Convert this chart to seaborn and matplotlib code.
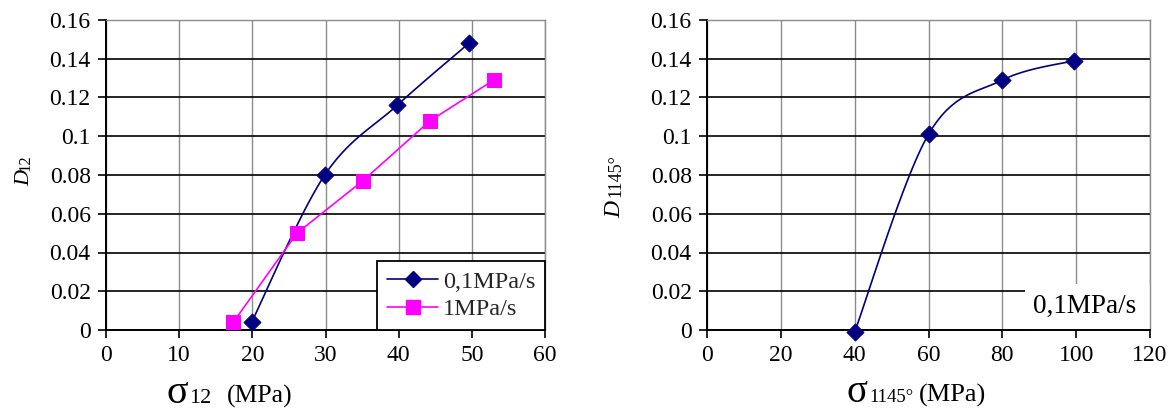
import numpy as np
import pandas as pd
import matplotlib
matplotlib.use("Agg")
import matplotlib.pyplot as plt
import seaborn as sns
from matplotlib.lines import Line2D
from matplotlib.patches import Rectangle
from matplotlib.ticker import FuncFormatter, MultipleLocator

# データ
s12_slow = [19.9, 29.9, 39.8, 49.6]
d12_slow = [0.004, 0.080, 0.116, 0.148]
s12_fast = [17.4, 26.1, 35.1, 44.3, 53.0]
d12_fast = [0.004, 0.050, 0.077, 0.108, 0.129]
s1145 = [40, 60, 80, 99.4]
d1145 = [-0.001, 0.101, 0.129, 0.139]

NAVY = "#000080"
MAGENTA = "#FF00FF"

sns.set_style("white")
plt.rcParams['font.family'] = ['Liberation Serif', 'DejaVu Serif']


# Excel風のスムージング線 (画面座標でベジェ補間)
def smooth(ax, xs, ys, n=30):
    tr = ax.transData
    pts = tr.transform(np.column_stack([xs, ys]))
    p = np.vstack([pts[0], pts, pts[-1]])
    out = []
    for i in range(1, len(p) - 2):
        p0, p1, p2, p3 = p[i - 1], p[i], p[i + 1], p[i + 2]
        c1 = p1 + (p2 - p0) / 6
        c2 = p2 - (p3 - p1) / 6
        t = np.linspace(0, 1, n)[:, None]
        seg = (1 - t) ** 3 * p1 + 3 * (1 - t) ** 2 * t * c1 + 3 * (1 - t) * t ** 2 * c2 + t ** 3 * p2
        out.append(seg)
    out = np.vstack(out)
    d = tr.inverted().transform(out)
    return d[:, 0], d[:, 1]


def style_axes(ax, xmax, xstep):
    ax.set_xlim(0, xmax)
    ax.set_ylim(0, 0.16)
    ax.xaxis.set_major_locator(MultipleLocator(xstep))
    ax.yaxis.set_major_locator(MultipleLocator(0.02))
    ax.yaxis.set_major_formatter(FuncFormatter(lambda v, p: f"{round(v, 2):g}"))
    ax.grid(True, axis='y', color='black', lw=1.2, zorder=0)
    ax.grid(True, axis='x', color='#8c8c8c', lw=1.0, zorder=0)
    ax.set_axisbelow(True)
    for side in ['left', 'bottom']:
        ax.spines[side].set_color('black')
        ax.spines[side].set_linewidth(1.4)
    for side in ['top', 'right']:
        ax.spines[side].set_color('#8c8c8c')
        ax.spines[side].set_linewidth(1.0)
    ax.tick_params(axis='both', direction='out', length=6, width=1.2,
                   labelsize=17, colors='black', pad=5,
                   bottom=True, left=True)
    ax.set_xlabel('')
    ax.set_ylabel('')


fig = plt.figure(figsize=(11.7, 4.12), dpi=100)
W, H = 1170, 412
ax1 = fig.add_axes([106 / W, 1 - 330 / H, (545 - 106) / W, 310 / H])
ax2 = fig.add_axes([707 / W, 1 - 330 / H, (1150 - 707) / W, 310 / H])

# 左図
style_axes(ax1, 60, 10)
sx, sy = smooth(ax1, s12_slow, d12_slow)
ax1.plot(sx, sy, color=NAVY, lw=1.2, zorder=3)
sns.scatterplot(x=s12_slow, y=d12_slow, ax=ax1, marker='D', s=75, color=NAVY,
                edgecolor=NAVY, zorder=4, clip_on=False)
sns.lineplot(x=s12_fast, y=d12_fast, ax=ax1, color=MAGENTA, lw=1.2, marker='s',
             markersize=9.5, markeredgecolor=MAGENTA, zorder=3, sort=False)
for c in ax1.collections + ax1.lines:
    c.set_clip_on(False)
handles = [Line2D([], [], color=NAVY, lw=1.2, marker='D', markersize=8.5),
           Line2D([], [], color=MAGENTA, lw=1.2, marker='s', markersize=9.5)]
leg = ax1.legend(handles, ['0,1MPa/s', '1MPa/s'], loc='lower right',
                 bbox_to_anchor=(1.0, 0.0), borderaxespad=0, fancybox=False,
                 edgecolor='black', framealpha=1, fontsize=17.5, handlelength=2.1,
                 handletextpad=0.2, labelspacing=0.22, borderpad=0.4)
leg.get_frame().set_linewidth(1.3)
style_axes(ax1, 60, 10)

# 右図
style_axes(ax2, 120, 20)
sx, sy = smooth(ax2, s1145, d1145)
ax2.plot(sx, sy, color=NAVY, lw=1.2, zorder=3)
sns.scatterplot(x=s1145, y=d1145, ax=ax2, marker='D', s=75, color=NAVY,
                edgecolor=NAVY, zorder=4, clip_on=False)
for c in ax2.collections + ax2.lines:
    c.set_clip_on(False)
# 凡例ボックス (枠なし・白地)
ax2.add_patch(Rectangle((86.2, 0.0), 120 - 86.2, 0.0235, transform=ax2.transData,
                        facecolor='white', edgecolor='none', zorder=2))
ax2.text(88.3, 0.0088, '0,1MPa/s', fontsize=19.5, color='black', zorder=3,
         va='baseline', ha='left')
style_axes(ax2, 120, 20)

# 軸ラベル
def ft(x, y, s, size, **kw):
    fig.text(x / W, 1 - y / H, s, fontsize=size, color='black', **kw)

ft(166, 403, 'σ', 29, va='baseline')
ft(189, 403, '12', 16, va='baseline')
ft(227, 403, '(MPa)', 18.5, va='baseline')
ft(847, 402, 'σ', 28, va='baseline')
ft(869, 402, '1145°', 13.5, va='baseline')
ft(919, 402, '(MPa)', 19, va='baseline')

ft(34, 186, 'D', 16, rotation=90, style='italic', ha='right', va='bottom')
ft(33, 171, '12', 12, rotation=90, ha='right', va='bottom')
ft(625, 218, 'D', 17, rotation=90, style='italic', ha='right', va='bottom')
ft(624, 197, '1145°', 13, rotation=90, ha='right', va='bottom')

fig.savefig('out.png', dpi=100)
